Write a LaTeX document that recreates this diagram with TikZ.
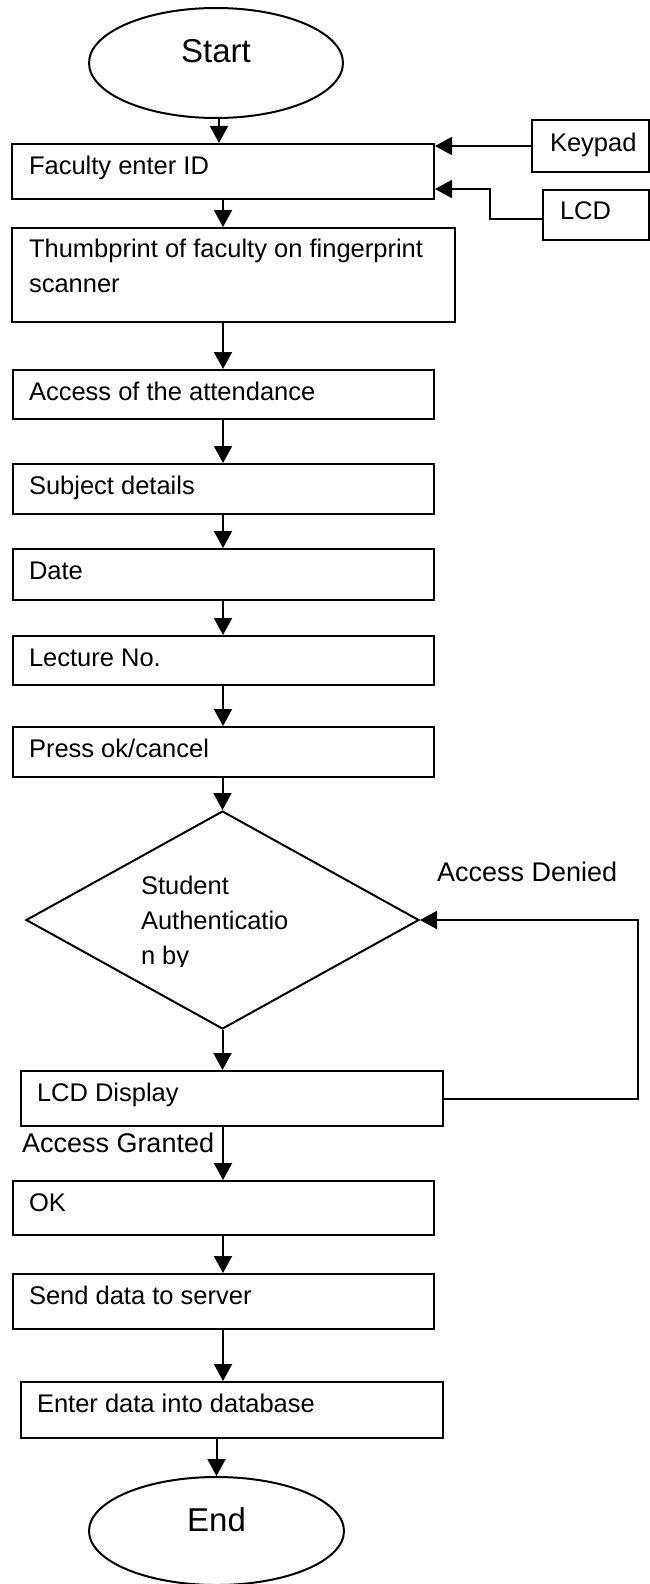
\documentclass[tikz,border=0pt]{standalone}
\usepackage{fontspec}
\setmainfont{Liberation Sans}
\usetikzlibrary{arrows.meta,shapes.geometric}
\begin{document}
\begin{tikzpicture}[x=1pt,y=-1pt,
  line width=2pt,
  box/.style={draw, rectangle, inner sep=0pt},
  oval/.style={draw, ellipse, inner sep=0pt},
  dmd/.style={draw, diamond, inner sep=0pt},
  txt/.style={inner sep=0pt, anchor=base west, align=left, font=\fontsize{25.5}{35}\selectfont},
  bigtxt/.style={inner sep=0pt, anchor=base, font=\fontsize{33}{40}\selectfont},
  lbl/.style={inner sep=0pt, anchor=base west, font=\fontsize{27}{32}\selectfont},
  arr/.style={-{Triangle[length=17pt,width=18pt]}, line width=2pt}
]
\useasboundingbox (0,0) rectangle (650,1584);
\coordinate (col) at (223,0);

% start
\node[oval, minimum width=254pt, minimum height=110pt] (start) at (216,63) {};
\node[bigtxt] (startT) at (216,63) {Start};

% main column
\node[box, minimum width=422pt, minimum height=55pt] (fac) at (223,171.5) {};
\node[txt] (facT) at ([xshift=17pt,yshift=-31pt]fac.north west) {Faculty enter ID};

\node[box, minimum width=443pt, minimum height=94pt] (thumb) at (233.5,275) {};
\node[txt] (thumbT) at ([xshift=17pt,yshift=-65pt]thumb.north west) {Thumbprint of faculty on fingerprint\\scanner};

\node[box, minimum width=421pt, minimum height=49pt] (acc) at (223.5,394.5) {};
\node[txt] (accT) at ([xshift=16pt,yshift=-31pt]acc.north west) {Access of the attendance};

\node[box, minimum width=421pt, minimum height=50pt] (sub) at (223.5,489) {};
\node[txt] (subT) at ([xshift=16pt,yshift=-31pt]sub.north west) {Subject details};

\node[box, minimum width=421pt, minimum height=51pt] (date) at (223.5,574.5) {};
\node[txt] (dateT) at ([xshift=16pt,yshift=-31pt]date.north west) {Date};

\node[box, minimum width=421pt, minimum height=49pt] (lec) at (223.5,660.5) {};
\node[txt] (lecT) at ([xshift=16pt,yshift=-31pt]lec.north west) {Lecture No.};

\node[box, minimum width=421pt, minimum height=50pt] (press) at (223.5,752) {};
\node[txt] (pressT) at ([xshift=16pt,yshift=-31pt]press.north west) {Press ok/cancel};

\node[dmd, minimum width=393pt, minimum height=218pt] (dia) at (222.5,920) {};
\begin{scope}
\clip (120,850) rectangle (330,966);
\node[txt] (diaT) at (140,964) {\fontsize{25.5}{34}\selectfont Student\\Authenticatio\\n by};
\end{scope}

\node[box, minimum width=422pt, minimum height=55pt] (lcdd) at (232,1098.5) {};
\node[txt] (lcddT) at ([xshift=16pt,yshift=-31pt]lcdd.north west) {LCD Display};

\node[box, minimum width=421pt, minimum height=54pt] (ok) at (223.5,1208) {};
\node[txt] (okT) at ([xshift=16pt,yshift=-31pt]ok.north west) {OK};

\node[box, minimum width=421pt, minimum height=55pt] (send) at (223.5,1301.5) {};
\node[txt] (sendT) at ([xshift=16pt,yshift=-31pt]send.north west) {Send data to server};

\node[box, minimum width=422pt, minimum height=56pt] (enter) at (232,1410) {};
\node[txt] (enterT) at ([xshift=16pt,yshift=-31pt]enter.north west) {Enter data into database};

\node[oval, minimum width=255pt, minimum height=108pt] (end) at (216.5,1531) {};
\node[bigtxt] (endT) at (216.5,1531) {End};

% inputs
\node[box, minimum width=117pt, minimum height=52pt] (key) at (590.5,146) {};
\node[txt] (keyT) at ([xshift=18pt,yshift=-32pt]key.north west) {Keypad};
\node[box, minimum width=106pt, minimum height=50pt] (lcd) at (596,215) {};
\node[txt] (lcdT) at ([xshift=17pt,yshift=-30pt]lcd.north west) {LCD};

% labels
\node[lbl] (denied) at (436,881) {Access Denied};
\node[lbl] (granted) at (21,1152) {Access Granted};

% connectors
\draw[arr] ([xshift=3pt]start.south) -- ([xshift=3pt]start.south |- fac.north);
\draw[arr] (fac.south -| col) -- (thumb.north -| col);
\draw[arr] (thumb.south -| col) -- (acc.north -| col);
\draw[arr] (acc.south -| col) -- (sub.north -| col);
\draw[arr] (sub.south -| col) -- (date.north -| col);
\draw[arr] (date.south -| col) -- (lec.north -| col);
\draw[arr] (lec.south -| col) -- (press.north -| col);
\draw[arr] (press.south -| dia.north) -- (dia.north);
\draw[arr] (dia.south) -- (dia.south |- lcdd.north);
\draw[arr] (lcdd.south -| col) -- (ok.north -| col);
\draw[arr] (ok.south -| col) -- (send.north -| col);
\draw[arr] (send.south -| col) -- (enter.north -| col);
\draw[arr] (enter.south -| end.north) -- (end.north);

\draw[arr] (key.west) -- (key.west -| fac.east);
\coordinate (lcdy) at (0,219);
\coordinate (bendx) at (490,0);
\coordinate (facy) at (0,189);
\draw[arr] (lcd.west |- lcdy) -- (bendx |- lcdy) -- (bendx |- facy) -- (fac.east |- facy);
\draw[arr] (lcdd.east) -- ++(194,0) |- (dia.east);
\end{tikzpicture}
\end{document}
